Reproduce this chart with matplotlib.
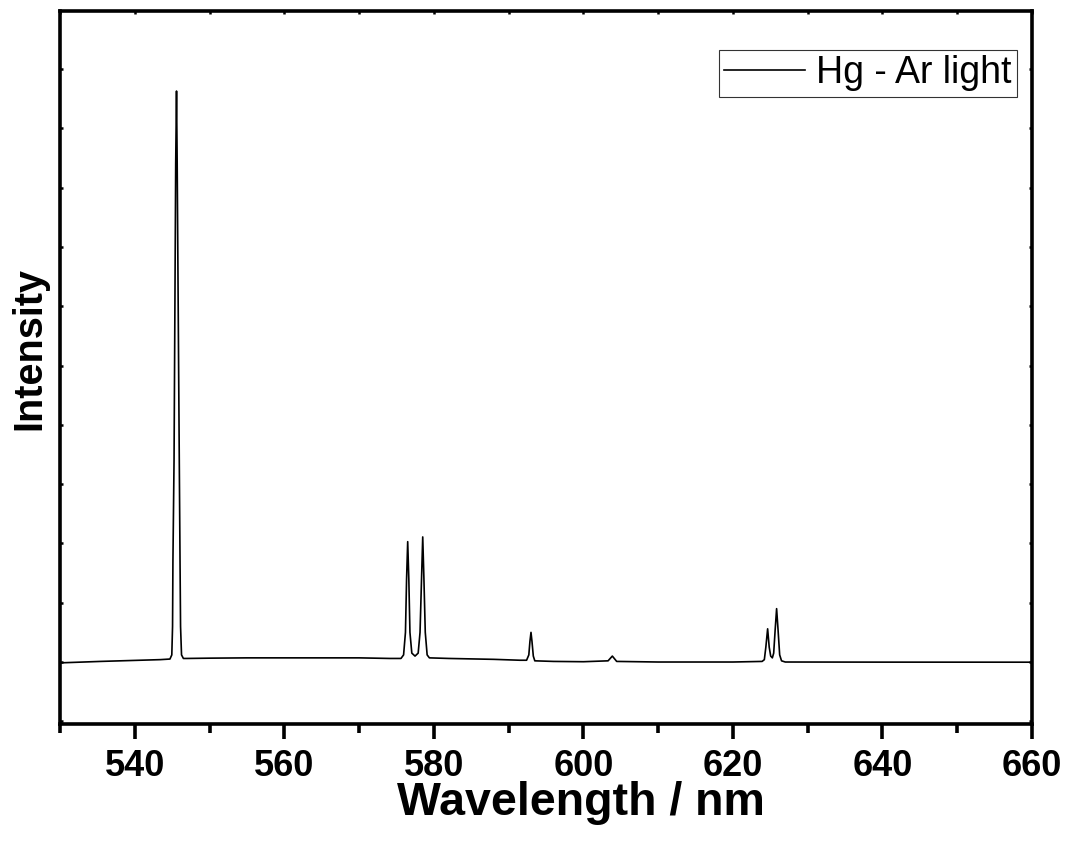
import matplotlib
matplotlib.use('Agg')
import matplotlib.pyplot as plt
from matplotlib.ticker import MultipleLocator, NullFormatter
import numpy as np

plt.rcParams['font.family'] = ['Liberation Sans', 'DejaVu Sans']

# spectrum (wavelength / nm, intensity in arb. units)
wavelength = [530.0, 530.3, 535.4, 539.4, 543.4, 544.7, 544.95, 545.05, 545.1, 545.25,
              545.47, 545.58, 545.67, 545.95, 546.05, 546.12, 546.25, 546.5,
              547.0, 550.0, 555.0, 560.0, 565.0, 570.0, 574.1,
              575.6, 575.95, 576.2, 576.35, 576.5, 576.65, 576.8, 577.05, 577.48,
              577.9, 578.15, 578.35, 578.51, 578.67, 578.85, 579.1, 579.4,
              582.0, 588.0, 591.5, 592.4, 592.7, 592.85, 592.99, 593.12, 593.3, 593.5,
              596.0, 600.0, 603.3, 603.87, 604.45, 610.0, 620.0,
              623.9, 624.2, 624.4, 624.64, 624.85, 625.05, 625.27, 625.45, 625.65,
              625.84, 626.03, 626.25, 626.5, 627.0, 640.0, 660.0]
intensity = [-0.015, -0.013, 0.01, 0.025, 0.04, 0.05, 0.12, 0.6, 1.7, 3.4,
             8.4, 9.63, 8.4, 3.4, 1.7, 0.6, 0.12, 0.06,
             0.06, 0.065, 0.07, 0.07, 0.07, 0.07, 0.06,
             0.06, 0.12, 0.5, 1.4, 2.03, 1.4, 0.5, 0.15, 0.1,
             0.15, 0.5, 1.4, 2.11, 1.4, 0.5, 0.12, 0.07,
             0.06, 0.045, 0.03, 0.03, 0.12, 0.35, 0.5, 0.35, 0.1, 0.02,
             0.01, 0.005, 0.02, 0.1, 0.01, 0.0, 0.0,
             0.01, 0.04, 0.25, 0.56, 0.25, 0.1, 0.07, 0.15, 0.55,
             0.90, 0.55, 0.12, 0.02, 0.0, -0.002, -0.003]

fig = plt.figure(figsize=(10.7, 8.49), dpi=100)
axes = fig.add_axes([0.0561, 0.1472, 0.9084, 0.8398])

axes.plot(wavelength, intensity, color='black', linewidth=1.2, label='Hg - Ar light')

axes.set_xlim(530, 660)
axes.set_ylim(-1.046, 10.98)

for sp in axes.spines.values():
    sp.set_linewidth(2.6)

# x ticks: outward on bottom
axes.xaxis.set_major_locator(MultipleLocator(20))
axes.xaxis.set_minor_locator(MultipleLocator(10))
axes.tick_params(axis='x', which='major', direction='out', length=11, width=2.6,
                 labelsize=26, pad=7, top=False)
axes.tick_params(axis='x', which='minor', direction='out', length=6.5, width=2.6, top=False)
for lab in axes.get_xticklabels():
    lab.set_fontweight('bold')

# top ticks: small inward nubs
secx = axes.secondary_xaxis('top')
secx.xaxis.set_major_locator(MultipleLocator(10))
secx.tick_params(direction='in', length=2.5, width=1.8, labeltop=False)
secx.spines['top'].set_visible(False)

# y ticks: small inward nubs, no labels
axes.yaxis.set_major_locator(MultipleLocator(1))
axes.yaxis.set_major_formatter(NullFormatter())
axes.tick_params(axis='y', which='major', direction='in', length=2.5, width=1.8,
                 left=True, right=True)

# axis titles placed like the original (not exactly centred)
fig.text(581 / 1070, 1 - 803 / 849, 'Wavelength / nm', fontsize=33.5, fontweight='bold',
         ha='center', va='center')
fig.text(29 / 1070, 1 - 348 / 849, 'Intensity', fontsize=28.5, fontweight='bold',
         rotation=90, ha='center', va='center')

legend = axes.legend(loc='upper right', bbox_to_anchor=(1017 / 1070, 1 - 50 / 849),
                     bbox_transform=fig.transFigure, borderaxespad=0, fontsize=27,
                     frameon=True, fancybox=False, handlelength=2.15, handletextpad=0.3,
                     borderpad=0.14)
legend.get_frame().set_edgecolor('black')
legend.get_frame().set_linewidth(0.8)

plt.savefig('out.png', dpi=100)
